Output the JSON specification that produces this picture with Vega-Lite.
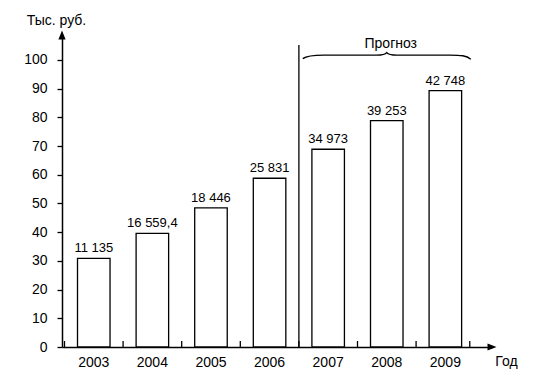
{
  "$schema": "https://vega.github.io/schema/vega-lite/v6.json",
  "width": 430,
  "height": 312,
  "autosize": {"type": "none"},
  "padding": {"left": 62, "top": 35, "right": 50, "bottom": 36},
  "background": "white",
  "config": {
    "view": {"stroke": null},
    "font": "Liberation Sans",
    "axis": {
      "grid": false,
      "domainColor": "black",
      "tickColor": "black",
      "labelColor": "black",
      "titleColor": "black",
      "domainWidth": 1.5,
      "tickWidth": 1.3,
      "labelFont": "Liberation Sans",
      "titleFont": "Liberation Sans",
      "labelFontSize": 14,
      "titleFontSize": 14,
      "titleFontWeight": "normal",
      "labelOverlap": false
    }
  },
  "datasets": {
    "bars": [
      {"year": "2003", "value": 30.9, "label": "11 135"},
      {"year": "2004", "value": 39.6, "label": "16 559,4"},
      {"year": "2005", "value": 48.5, "label": "18 446"},
      {"year": "2006", "value": 58.8, "label": "25 831"},
      {"year": "2007", "value": 68.9, "label": "34 973"},
      {"year": "2008", "value": 78.9, "label": "39 253"},
      {"year": "2009", "value": 89.3, "label": "42 748"}
    ],
    "note": [{"text": "Прогноз"}]
  },
  "layer": [
    {
      "data": {"name": "bars"},
      "mark": {"type": "bar", "fill": "white", "stroke": "black", "strokeWidth": 1.3},
      "encoding": {
        "x": {
          "field": "year",
          "type": "nominal",
          "scale": {"paddingInner": 0.445, "paddingOuter": 0.3915, "align": 0.338},
          "axis": {
            "title": "Год",
            "labelAngle": 0,
            "ticks": false,
            "labelPadding": 8,
            "titleX": 444,
            "titleY": 18,
            "titleAlign": "center",
            "titleBaseline": "alphabetic"
          }
        },
        "y": {
          "field": "value",
          "type": "quantitative",
          "scale": {"domain": [0, 108.7], "nice": false},
          "axis": {
            "title": "Тыс. руб.",
            "values": [0, 10, 20, 30, 40, 50, 60, 70, 80, 90, 100],
            "tickCount": 11,
            "labelOverlap": false,
            "labelFlush": false,
            "labelBound": false,
            "tickSize": 5,
            "labelPadding": 10,
            "titleAngle": 0,
            "titleX": -6,
            "titleY": -11,
            "titleAlign": "center",
            "titleBaseline": "alphabetic"
          }
        }
      }
    },
    {
      "data": {"name": "bars"},
      "mark": {"type": "rule", "color": "black", "strokeWidth": 1.3},
      "encoding": {
        "x": {"field": "year", "type": "nominal", "bandPosition": -0.4},
        "y": {"datum": 0},
        "y2": {"datum": 2.1}
      }
    },
    {
      "data": {"name": "note"},
      "mark": {"type": "rule", "color": "black", "strokeWidth": 1.3},
      "encoding": {
        "x": {"datum": "2009", "bandPosition": 1.25},
        "y": {"datum": 0},
        "y2": {"datum": 2.1}
      }
    },
    {
      "data": {"name": "bars"},
      "mark": {"type": "text", "baseline": "alphabetic", "dy": -6, "fontSize": 13, "font": "Liberation Sans", "color": "black"},
      "encoding": {
        "x": {"field": "year", "type": "nominal"},
        "y": {"field": "value", "type": "quantitative"},
        "text": {"field": "label"}
      }
    },
    {
      "data": {"name": "note"},
      "mark": {"type": "rule", "color": "black", "strokeWidth": 1.3},
      "encoding": {
        "x": {"datum": "2007", "bandPosition": -0.4},
        "y": {"datum": 0},
        "y2": {"datum": 105.2}
      }
    },
    {
      "data": {"name": "note"},
      "mark": {
        "type": "point",
        "shape": "M-1,0.042 C-0.95,0.005 -0.88,0 -0.75,0 L-0.12,0 C-0.04,0 -0.015,-0.01 0,-0.03 C0.015,-0.01 0.04,0 0.12,0 L0.75,0 C0.88,0 0.95,0.005 1,0.05",
        "filled": false,
        "fill": null,
        "stroke": "black",
        "strokeWidth": 1.4,
        "opacity": 1,
        "size": 28224
      },
      "encoding": {
        "x": {"datum": "2008"},
        "y": {"datum": 101.7}
      }
    },
    {
      "data": {"name": "note"},
      "mark": {"type": "text", "fontSize": 14, "font": "Liberation Sans", "color": "black", "baseline": "middle", "dx": 4},
      "encoding": {
        "x": {"datum": "2008"},
        "y": {"datum": 105.6},
        "text": {"field": "text"}
      }
    },
    {
      "data": {"name": "note"},
      "mark": {"type": "point", "shape": "M0,-1L0.8,1L-0.8,1Z", "filled": true, "color": "black", "opacity": 1, "size": 81, "strokeWidth": 0},
      "encoding": {
        "x": {"value": 0},
        "y": {"datum": 108.7}
      }
    },
    {
      "data": {"name": "note"},
      "mark": {"type": "point", "shape": "M1,0L-1,0.8L-1,-0.8Z", "filled": true, "color": "black", "opacity": 1, "size": 81, "strokeWidth": 0, "x": {"expr": "width"}},
      "encoding": {
        "y": {"datum": 0}
      }
    }
  ]
}
